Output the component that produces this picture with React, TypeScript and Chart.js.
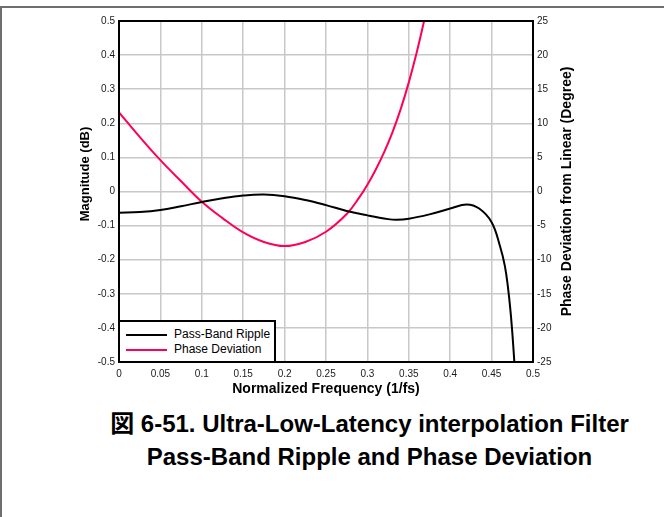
import React, { useEffect, useRef } from "react";
import { Chart, registerables } from "chart.js";

Chart.register(...registerables);

// ---------- data ----------
const rippleFreq = [0, 0.025, 0.05, 0.075, 0.1, 0.125, 0.15, 0.175, 0.2, 0.225, 0.25, 0.275, 0.3, 0.325, 0.335, 0.35, 0.375, 0.4, 0.42, 0.435, 0.45, 0.46, 0.466, 0.47, 0.473, 0.4755, 0.478];
const rippleDb = [-0.062, -0.06, -0.054, -0.043, -0.031, -0.02, -0.012, -0.009, -0.014, -0.025, -0.04, -0.057, -0.07, -0.081, -0.083, -0.08, -0.067, -0.05, -0.038, -0.05, -0.09, -0.159, -0.218, -0.286, -0.355, -0.43, -0.52];

const phaseFreq = [0, 0.025, 0.05, 0.075, 0.1, 0.125, 0.15, 0.175, 0.2, 0.225, 0.25, 0.275, 0.29, 0.3, 0.31, 0.32, 0.33, 0.34, 0.35, 0.36, 0.37];
const phaseDeg = [11.6, 8.0, 4.6, 1.5, -1.5, -3.9, -6.0, -7.4, -8.0, -7.4, -5.9, -3.3, -0.9, 1.0, 3.2, 5.7, 8.6, 12.0, 16.0, 20.6, 25.8];

const xTickLabels = ["0", "0.05", "0.1", "0.15", "0.2", "0.25", "0.3", "0.35", "0.4", "0.45", "0.5"];
const yTickLabels = ["-0.5", "-0.4", "-0.3", "-0.2", "-0.1", "0", "0.1", "0.2", "0.3", "0.4", "0.5"];
const y2TickLabels = ["-25", "-20", "-15", "-10", "-5", "0", "5", "10", "15", "20", "25"];

const seriesNames = ["Pass-Band Ripple", "Phase Deviation"];
const xTitle = "Normalized Frequency (1/fs)";
const yTitle = "Magnitude (dB)";
const y2Title = "Phase Deviation from Linear (Degree)";
const captionLines = ["図 6-51. Ultra-Low-Latency interpolation Filter", "Pass-Band Ripple and Phase Deviation"];

// ---------- styles ----------
const FONT = '"Liberation Sans", Arial, Helvetica, "Noto Sans CJK JP", sans-serif';
const RED = "#ff0055";
const BLACK = "#000000";
const GRID = "#c8c8c8";
const CW = 664;
const CH = 400;

const framePlugin = {
  id: "frameAndTitles",
  afterDraw(chart: any) {
    const { ctx, chartArea: a } = chart;
    ctx.save();
    ctx.strokeStyle = "#000";
    ctx.lineWidth = 2;
    ctx.strokeRect(a.left, a.top, a.right - a.left, a.bottom - a.top);

    ctx.fillStyle = "#000";
    ctx.textAlign = "center";
    ctx.textBaseline = "middle";
    ctx.font = `bold 14px ${FONT}`;
    ctx.fillText(xTitle, (a.left + a.right) / 2, a.bottom + 27);

    ctx.save();
    ctx.translate(a.left - 34, a.top + 153);
    ctx.rotate(-Math.PI / 2);
    ctx.font = `bold 13px ${FONT}`;
    ctx.fillText(yTitle, 0, 0);
    ctx.restore();

    ctx.save();
    ctx.translate(a.right + 34, (a.top + a.bottom) / 2);
    ctx.rotate(-Math.PI / 2);
    ctx.font = `bold 14px ${FONT}`;
    ctx.fillText(y2Title, 0, 0);
    ctx.restore();

    ctx.restore();
  },
};

function ChartView() {
  const ref = useRef<HTMLCanvasElement | null>(null);

  useEffect(() => {
    if (!ref.current) return;
    const tickFont = { family: FONT, size: 10 };
    const chart = new Chart(ref.current, {
      type: "line",
      data: {
        datasets: [
          {
            label: seriesNames[0],
            data: rippleFreq.map((f, i) => ({ x: f, y: rippleDb[i] })),
            borderColor: BLACK,
            backgroundColor: BLACK,
            borderWidth: 2,
            pointRadius: 0,
            tension: 0.4,
            yAxisID: "y",
          },
          {
            label: seriesNames[1],
            data: phaseFreq.map((f, i) => ({ x: f, y: phaseDeg[i] })),
            borderColor: RED,
            backgroundColor: RED,
            borderWidth: 2,
            pointRadius: 0,
            tension: 0.4,
            yAxisID: "y2",
          },
        ],
      },
      options: {
        animation: false,
        responsive: false,
        devicePixelRatio: 1,
        layout: { padding: { top: 21, left: 0, right: 0, bottom: 0 } },
        plugins: { legend: { display: false }, tooltip: { enabled: false } },
        scales: {
          x: {
            type: "linear",
            min: 0,
            max: 0.5,
            afterBuildTicks: (s: any) => {
              s.ticks = xTickLabels.map((t) => ({ value: parseFloat(t) }));
            },
            afterFit: (s: any) => {
              s.height = 38;
            },
            ticks: {
              callback: (_v: any, i: number) => xTickLabels[i],
              font: tickFont,
              color: "#1a1a1a",
              padding: 6,
              maxRotation: 0,
              autoSkip: false,
            },
            grid: { color: GRID, lineWidth: 1.5, drawTicks: false },
            border: { display: false },
          },
          y: {
            type: "linear",
            position: "left",
            min: -0.5,
            max: 0.5,
            afterBuildTicks: (s: any) => {
              s.ticks = yTickLabels.map((t) => ({ value: parseFloat(t) }));
            },
            afterFit: (s: any) => {
              s.width = 119;
            },
            ticks: {
              callback: (_v: any, i: number) => yTickLabels[i],
              font: tickFont,
              color: "#1a1a1a",
              padding: 4,
              autoSkip: false,
            },
            grid: { color: GRID, lineWidth: 1.5, drawTicks: false },
            border: { display: false },
          },
          y2: {
            type: "linear",
            position: "right",
            min: -25,
            max: 25,
            afterBuildTicks: (s: any) => {
              s.ticks = y2TickLabels.map((t) => ({ value: parseFloat(t) }));
            },
            afterFit: (s: any) => {
              s.width = CW - 533;
            },
            ticks: {
              callback: (_v: any, i: number) => y2TickLabels[i],
              font: tickFont,
              color: "#1a1a1a",
              padding: 4,
              autoSkip: false,
            },
            grid: { drawOnChartArea: false, drawTicks: false },
            border: { display: false },
          },
        },
      },
      plugins: [framePlugin],
    } as any);
    return () => chart.destroy();
  }, []);

  return <canvas ref={ref} width={CW} height={CH} style={{ position: "absolute", left: 0, top: 0, width: CW, height: CH }} />;
}

export default function App() {
  const legendColors = [BLACK, RED];
  return (
    <div style={{ position: "absolute", left: 0, top: 0, width: 664, height: 517, overflow: "hidden", background: "#fff", fontFamily: FONT }}>
      <div style={{ position: "absolute", left: 0, top: 6, width: 664, height: 2, background: "#6e6e6e" }} />
      <div style={{ position: "absolute", left: 0, top: 6, width: 2, height: 511, background: "#6e6e6e" }} />
      <ChartView />
      <div
        style={{
          position: "absolute",
          left: 118,
          top: 320,
          width: 158,
          height: 43,
          boxSizing: "border-box",
          border: "2px solid #000",
          background: "#fff",
        }}
      >
        {seriesNames.map((name, i) => (
          <div key={name} style={{ position: "absolute", left: 6, top: 5 + i * 15, height: 15, display: "flex", alignItems: "center" }}>
            <div style={{ width: 41, height: 2, background: legendColors[i] }} />
            <span style={{ marginLeft: 7, fontSize: 12, color: "#000", lineHeight: "15px", whiteSpace: "nowrap" }}>{name}</span>
          </div>
        ))}
      </div>
      <div
        style={{
          position: "absolute",
          left: 75,
          top: 407,
          width: 589,
          textAlign: "center",
          fontWeight: "bold",
          fontSize: 24,
          lineHeight: "33px",
          color: "#000",
          whiteSpace: "nowrap",
        }}
      >
        {captionLines.map((l) => (
          <div key={l}>{l}</div>
        ))}
      </div>
    </div>
  );
}
